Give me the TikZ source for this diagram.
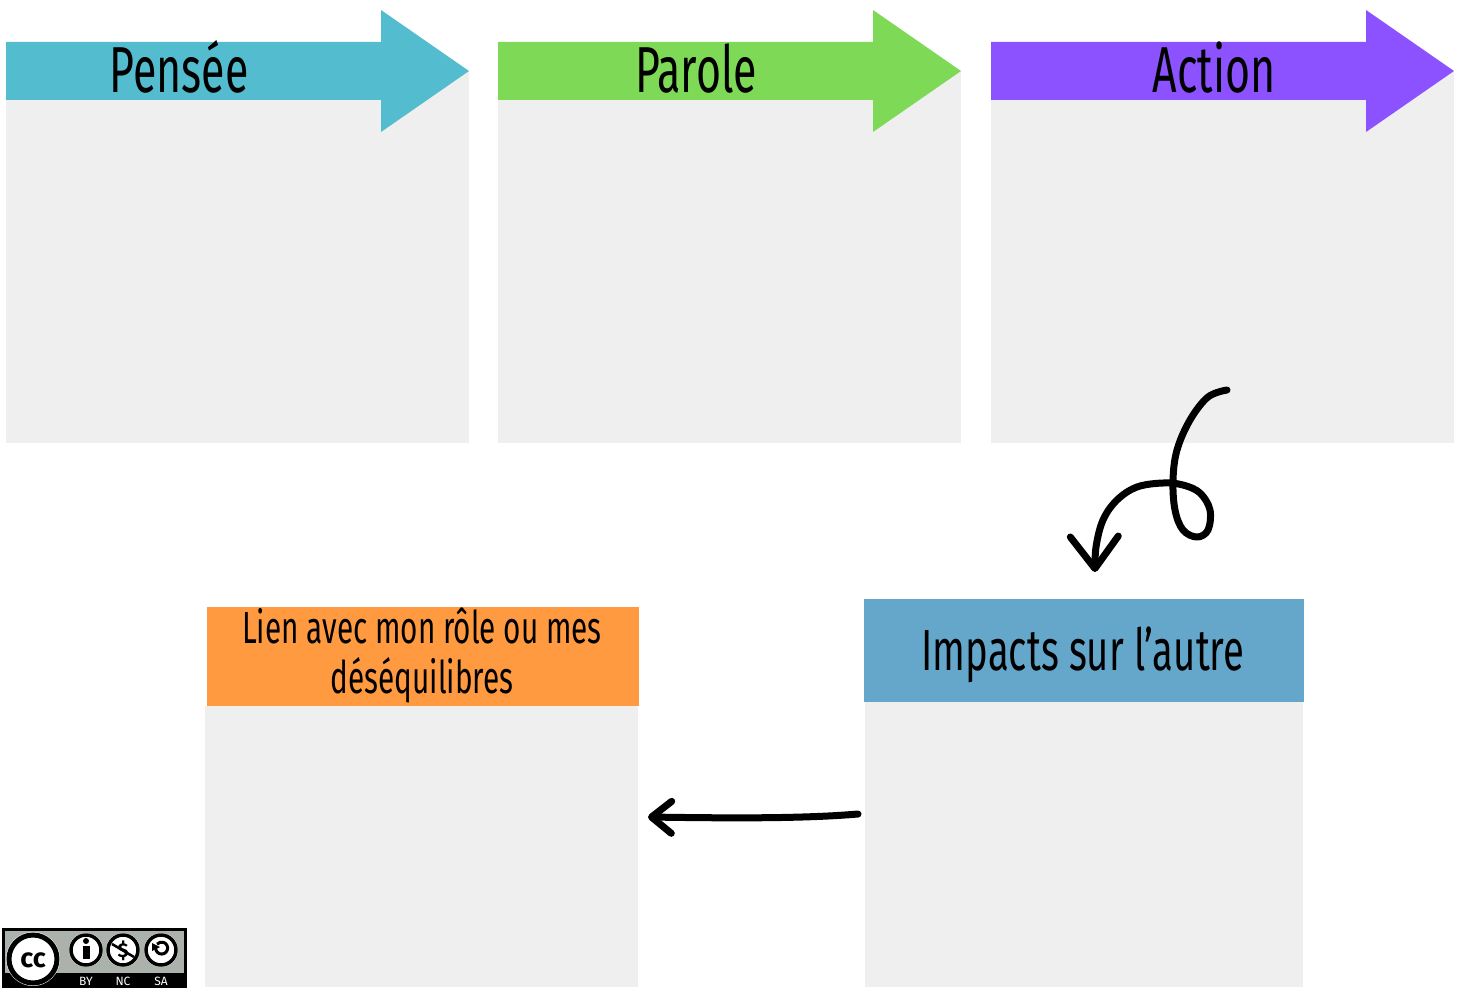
\documentclass[tikz,border=0pt]{standalone}
\usepackage{fontspec}
\setmainfont{Fira Sans}
\usepackage{graphicx}
\usetikzlibrary{arrows.meta}

\definecolor{penseeblue}{HTML}{53BCCE}
\definecolor{parolegreen}{HTML}{7ED957}
\definecolor{actionviolet}{HTML}{8C52FF}
\definecolor{impactblue}{HTML}{64A7CB}
\definecolor{lienorange}{HTML}{FF9A41}
\definecolor{panelgray}{HTML}{EFEFEF}
\definecolor{ccgray}{HTML}{ABB2AB}

\newcommand{\narrowtxt}[2]{\scalebox{0.66}[1]{\fontsize{#1}{#1}\selectfont #2}}

\begin{document}
\begin{tikzpicture}[x=1pt,y=-1pt,>={Straight Barb[length=20pt,width=32pt,round]},
  panel/.style={fill=panelgray,inner sep=0pt,anchor=north west},
  hand/.style={line width=7pt,line cap=round,line join=round}]
  \useasboundingbox (0,0) rectangle (1463,987);
  % three top panels with their arrows
  \foreach \x/\col/\name/\txt/\tx in {6/penseeblue/pensee/Pensée/179,
      498/parolegreen/parole/Parole/696, 991/actionviolet/action/Action/1214} {
    \node[panel,minimum width=463pt,minimum height=372pt] (\name box) at (\x,71) {};
    \fill[\col] (\x,42) -- ++(375,0) -- ++(0,-32) -- ++(88,61) -- ++(-88,61)
      -- ++(0,-32) -- (\x,100) -- cycle;
    \node[anchor=base,inner sep=0pt] (\name) at (\tx,93) {\narrowtxt{65pt}{\txt}};
  }
  % bottom panels
  \node[panel,minimum width=433pt,minimum height=281pt] (lienbox) at (205,706) {};
  \node[fill=lienorange,inner sep=0pt,anchor=north west,minimum width=432pt,
    minimum height=99pt] (lienhead) at (207,607) {};
  \node[anchor=base,inner sep=0pt] (lien1) at (422,643) {\narrowtxt{45pt}{Lien avec mon rôle ou mes}};
  \node[anchor=base,inner sep=0pt] (lien2) at (422,693) {\narrowtxt{45pt}{déséquilibres}};
  \node[panel,minimum width=438pt,minimum height=285pt] (impactbox) at (865,702) {};
  \node[fill=impactblue,inner sep=0pt,anchor=north west,minimum width=440pt,
    minimum height=103pt] (impacthead) at (864,599) {};
  \node[anchor=base,inner sep=0pt] (impact) at (1083,670) {\narrowtxt{58pt}{Impacts sur l’autre}};
  % hand-drawn connectors
  \coordinate (curlstart) at (1227,390);
  \coordinate (curlend) at (1095,572);
  \draw[hand,-{Straight Barb[length=32pt,width=48pt,round]}] plot[smooth,tension=0.6]
    coordinates {(curlstart) (1208,397) (1190,420)
    (1177,450) (1173,480) (1175,510) (1183,530) (1197,537) (1208,530) (1210,510)
    (1200,493) (1183,485) (1163,483) (1137,487) (1117,500) (1103,520) (1096,547) (curlend)};
  \coordinate (impactleft) at (858,814);
  \coordinate (lienright) at (648,817);
  \draw[hand,->] (impactleft) .. controls (800,819) and (720,818) .. (lienright);
  % licence badge
  \fill[black] (2,928) rectangle (187,990);
  \fill[ccgray] (5,931) rectangle (184,973);
  \fill[white] (33,959) circle (27);
  \draw[line width=5pt] (33,959) circle (24);
  \node[font=\bfseries\fontsize{27pt}{27pt}\selectfont,inner sep=0pt] (cc) at (33,960) {cc};
  \foreach \cx in {86,123,161} {
    \fill[white] (\cx,950) circle (17);
    \draw[line width=3.5pt] (\cx,950) circle (15);
  }
  \fill (86,941) circle (3);
  \fill (82.5,946) rectangle (89.5,959);
  \node[font=\bfseries\fontsize{20pt}{20pt}\selectfont,inner sep=0pt] (nc) at (123,951) {\$};
  \draw[line width=2.5pt] (112,944) -- (134,957);
  \draw[line width=3pt] (156,946) arc (200:-140:6);
  \fill (152,943) -- (160,947) -- (152,951) -- cycle;
  \foreach \cx/\lbl in {86/BY,123/NC,161/SA}
    \node[text=white,font=\fontsize{12pt}{12pt}\selectfont,anchor=base,inner sep=0pt] at (\cx,985) {\lbl};
\end{tikzpicture}
\end{document}
